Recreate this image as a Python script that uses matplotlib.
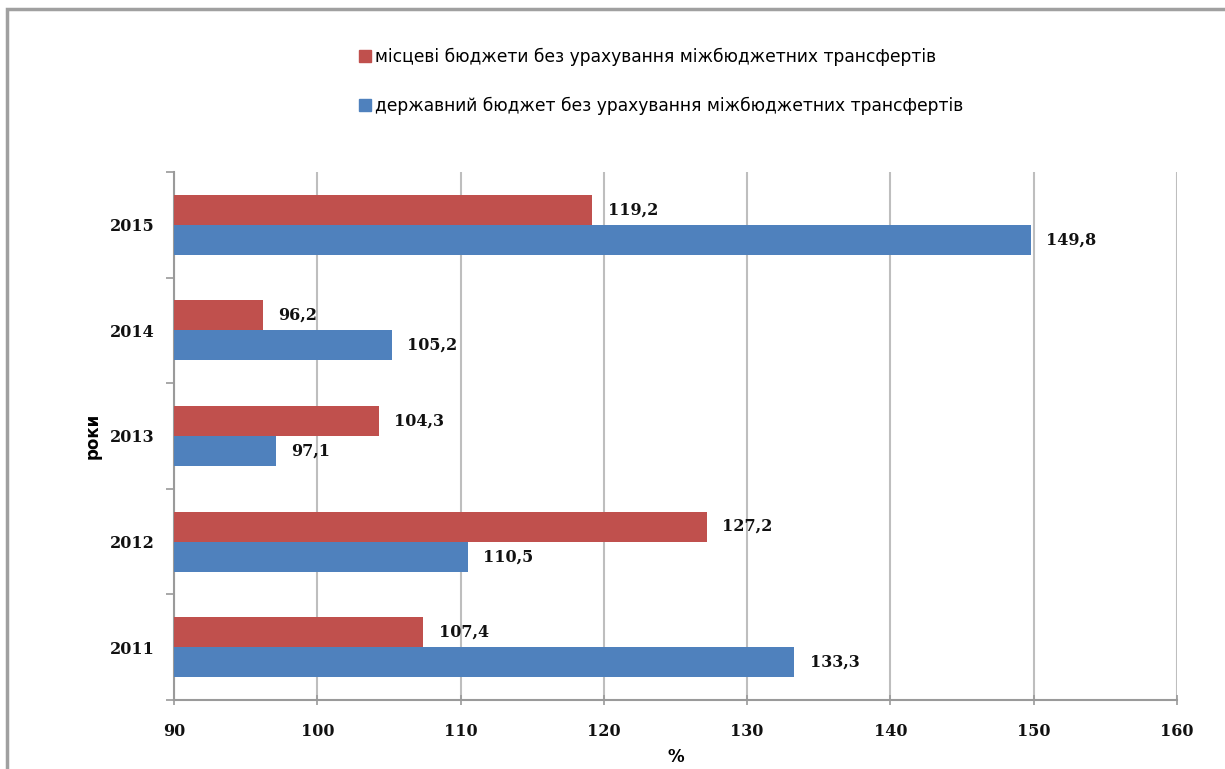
import matplotlib
matplotlib.use('Agg')
import matplotlib.pyplot as plt
import numpy as np
from matplotlib.patches import Rectangle, Patch

# ── data ──
years = ['2011', '2012', '2013', '2014', '2015']
local = [107.4, 127.2, 104.3, 96.2, 119.2]     # місцеві бюджети
state = [133.3, 110.5, 97.1, 105.2, 149.8]     # державний бюджет
local_label = 'місцеві бюджети без урахування міжбюджетних трансфертів'
state_label = 'державний бюджет без урахування міжбюджетних трансфертів'

RED, BLUE, GRID, AX = '#C0504D', '#4F81BD', '#BEBEBE', '#9A9A9A'

fig = plt.figure(figsize=(12.25, 7.69), dpi=100)
ax = fig.add_axes([174 / 1225, 1 - 700 / 769, (1177 - 174) / 1225, (700 - 172) / 769])

y = np.arange(len(years))
h = 0.285
ax.barh(y + h / 2, local, height=h, left=0, color=RED, zorder=3)
ax.barh(y - h / 2, state, height=h, left=0, color=BLUE, zorder=3)

for yi, v in zip(y, local):
    ax.annotate(f'{v:.1f}'.replace('.', ','), (v, yi + h / 2), xytext=(11, 0),
                textcoords='offset points', va='center', ha='left',
                fontsize=11.5, fontweight='bold', family='DejaVu Serif', color='#111111')
for yi, v in zip(y, state):
    ax.annotate(f'{v:.1f}'.replace('.', ','), (v, yi - h / 2), xytext=(11, 0),
                textcoords='offset points', va='center', ha='left',
                fontsize=11.5, fontweight='bold', family='DejaVu Serif', color='#111111')

ax.set_xlim(90, 160)
ax.set_ylim(-0.5, len(years) - 0.5)
ax.set_xticks(np.arange(90, 161, 10))
ax.set_yticks(y)
ax.set_yticklabels(years)
ax.set_yticks(np.arange(-0.5, len(years), 1.0), minor=True)
ax.grid(axis='x', color=GRID, lw=1.5, zorder=0)
ax.tick_params(axis='y', which='major', length=0, pad=14)
ax.tick_params(axis='y', which='minor', length=6, color=AX, width=1.2, direction='out')
ax.tick_params(axis='x', length=7, color=AX, width=1.2, direction='inout', pad=13)
for lab in ax.get_xticklabels() + ax.get_yticklabels():
    lab.set_fontsize(11.5); lab.set_fontweight('bold'); lab.set_family('DejaVu Serif')
    lab.set_color('#111111')
for s in ('top', 'right'):
    ax.spines[s].set_visible(False)
for s in ('left', 'bottom'):
    ax.spines[s].set_color(AX); ax.spines[s].set_linewidth(1.5)

ax.set_xlabel('%', fontsize=12, fontweight='bold', labelpad=6)
ax.set_ylabel('роки', fontsize=12, fontweight='bold', labelpad=6)

handles = [Patch(color=RED), Patch(color=BLUE)]
fig.legend(handles, [local_label, state_label], loc='upper left',
           bbox_to_anchor=(344 / 1225, 1 - 32 / 769), frameon=False, fontsize=12.3,
           handlelength=0.7, handleheight=0.7, handletextpad=0.2, labelspacing=1.85)

# chart area border
fig.patches.append(Rectangle((7 / 1225, -0.2), 1.2, 1.2 - 9 / 769, transform=fig.transFigure,
                             fill=False, ec='#A0A0A0', lw=2.5))

fig.savefig('out.png', dpi=100)
